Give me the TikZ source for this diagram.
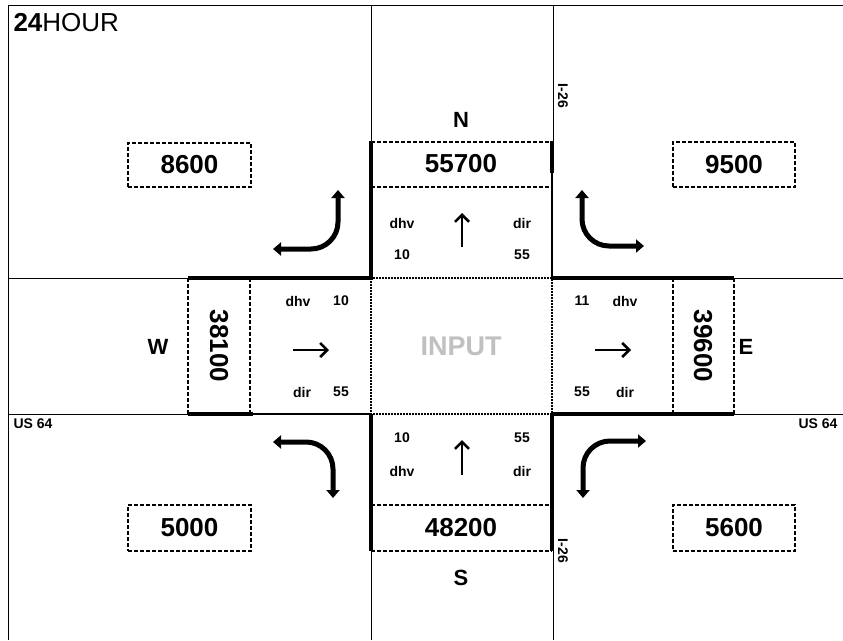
\documentclass[tikz,border=0pt]{standalone}
\usepackage{fontspec}
\setmainfont{Liberation Sans}
\usepackage{tikz}
\usetikzlibrary{arrows.meta}
\definecolor{inputgray}{HTML}{C0C0C0}
\tikzset{
  every picture/.style={
    x=1pt, y=-1pt,
    line join=miter,
  },
  road/.style={line width=1pt},
  curb/.style={line width=3.6pt},
  halfcurb/.style={line width=2pt},
  countline/.style={line width=1.6pt, dash pattern=on 4pt off 2pt},
  countbox/.style={draw, countline},
  inputline/.style={line width=2pt, dash pattern=on 1.6pt off 1.4pt},
  bignum/.style={font=\fontsize{26}{26}\selectfont\bfseries},
  dirname/.style={font=\fontsize{22}{22}\selectfont\bfseries},
  small/.style={font=\fontsize{14}{14}\selectfont\bfseries},
  roadname/.style={font=\fontsize{14}{14}\selectfont\bfseries},
  turn/.style={line width=5pt, rounded corners=27pt,
    {Triangle[width=13pt,length=8pt]}-{Triangle[width=13pt,length=8pt]}},
  thru/.style={line width=2.6pt, -{Straight Barb[length=7pt,width=14pt]}},
}

\begin{document}
\begin{tikzpicture}
\useasboundingbox (0,0) rectangle (843,640);
\clip (0,0) rectangle (843,640);
% frame and road edges
\draw[road](843,5)--(8,5)--(8,640);
\draw[road](371,5)--(371,141) (553,5)--(553,141);
\draw[road](371,551)--(371,640) (553,551)--(553,640);
\draw[road](8,278)--(188,278) (734,278)--(843,278);
\draw[road](8,414)--(188,414) (734,414)--(843,414);
% curbs
\draw[curb](188,278)--(371,278)--(371,141);
\draw[curb](552,141)--(552,173);
\draw[halfcurb](552,173)--(552,278);
\draw[curb](552,278)--(734,278);
\draw[curb](552,414)--(734,414);
\draw[curb](188,414)--(253,414);
\draw[halfcurb](253,414)--(371,414);
\draw[curb](371,414)--(371,551);
\draw[curb](552,414)--(552,551);
% approach boxes
\draw[countline](371,142)--(552,142) (371,187)--(552,187);
\draw[countline](371,505)--(552,505) (371,551)--(552,551);
\draw[countline](188,278)--(188,414) (250,278)--(250,414);
\draw[countline](673,278)--(673,414) (734,278)--(734,414);
\draw[inputline](371,278) rectangle (552,414);

\node[anchor=west,font=\fontsize{26}{26}\selectfont](title) at (10,23) {\textbf{24}HOUR};

\node[dirname](north) at (461,120) {N};
\node[dirname](south) at (461,578) {S};
\node[dirname](west) at (158,347) {W};
\node[dirname](east) at (746,347) {E};
\node[font=\fontsize{27}{27}\selectfont\bfseries,text=inputgray](input) at (461,346) {INPUT};

\node[bignum](ntotal) at (461,164) {55700};
\node[bignum](stotal) at (461,528) {48200};
\node[bignum,rotate=-90](wtotal) at (219,346) {38100};
\node[bignum,rotate=-90](etotal) at (703,346) {39600};

\node[countbox,bignum,minimum width=123pt,minimum height=44pt](nw) at (189.5,165) {8600};
\node[countbox,bignum,minimum width=122pt,minimum height=45pt](ne) at (734,164.5) {9500};
\node[countbox,bignum,minimum width=123pt,minimum height=46pt](sw) at (189.5,528) {5000};
\node[countbox,bignum,minimum width=122pt,minimum height=46pt](se) at (734,528) {5600};

% approach labels
\node[small](ndhv) at (402,223) {dhv};
\node[small](ndir) at (522,223) {dir};
\node[small](nhv) at (402,255) {10};
\node[small](npct) at (522,255) {55};
\node[small](shv) at (402,438) {10};
\node[small](spct) at (522,438) {55};
\node[small](sdhv) at (402,471) {dhv};
\node[small](sdir) at (522,471) {dir};
\node[small](wdhv) at (298,301) {dhv};
\node[small](whv) at (341,301) {10};
\node[small](wdir) at (302,392) {dir};
\node[small](wpct) at (341,392) {55};
\node[small](ehv) at (582,301) {11};
\node[small](edhv) at (625,301) {dhv};
\node[small](epct) at (582,392) {55};
\node[small](edir) at (625,392) {dir};

\node[roadname,anchor=west](uswest) at (10,424) {US 64};
\node[roadname,anchor=east](useast) at (841,424) {US 64};
\node[roadname,rotate=-90](inorth) at (563,96) {I-26};
\node[roadname,rotate=-90](isouth) at (563,551) {I-26};

% through movements
\draw[thru](462,247)--(462,213);
\draw[thru](462,475)--(462,440);
\draw[thru](293,350)--(329,350);
\draw[thru](595,350)--(631,350);
% turning movements
\draw[turn](338,190)--(338,249)--(273,249);
\draw[turn](582,190)--(582,246)--(644,246);
\draw[turn](273,442)--(333,442)--(333,498);
\draw[turn](583,498)--(583,441)--(646,441);
\end{tikzpicture}
\end{document}
